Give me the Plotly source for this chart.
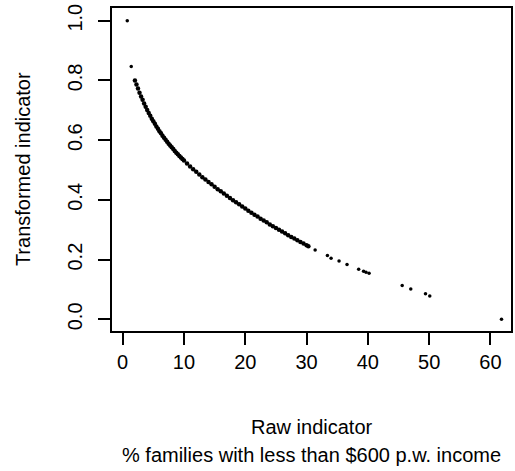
import plotly.graph_objects as go

# raw indicator (% families with < $600 p.w. income) vs transformed value
# the dense part of the cloud
curve_raw = [2.0, 2.25, 2.5, 2.75, 3.0, 3.25, 3.5, 3.75, 4.0, 4.25, 4.5, 4.75,
             5.0, 5.25, 5.5, 5.75, 6.0, 6.25, 6.5, 6.75, 7.0, 7.25, 7.5, 7.75,
             8.0, 8.25, 8.5, 8.75, 9.0, 9.25, 9.5, 9.75, 10.0,
             10.5, 11.0, 11.5, 12.0, 12.5, 13.0, 13.5, 14.0, 14.5, 15.0, 15.5,
             16.0, 16.5, 17.0, 17.5, 18.0, 18.5, 19.0, 19.5, 20.0, 20.5, 21.0,
             21.5, 22.0, 22.5, 23.0, 23.5, 24.0, 24.5, 25.0, 25.5, 26.0, 26.5,
             27.0, 27.5, 28.0, 28.5, 29.0, 29.5, 30.0, 30.3]
curve_transformed = [0.800, 0.786, 0.773, 0.759, 0.746, 0.735, 0.723, 0.712, 0.701, 0.691, 0.682, 0.672,
                     0.663, 0.655, 0.646, 0.638, 0.630, 0.623, 0.615, 0.608, 0.601, 0.595, 0.588, 0.582,
                     0.576, 0.570, 0.564, 0.558, 0.553, 0.547, 0.542, 0.537, 0.532,
                     0.522, 0.512, 0.503, 0.494, 0.485, 0.476, 0.468, 0.460, 0.452, 0.444, 0.436,
                     0.429, 0.421, 0.414, 0.406, 0.399, 0.392, 0.385, 0.378, 0.371, 0.364, 0.357,
                     0.350, 0.344, 0.337, 0.331, 0.325, 0.318, 0.312, 0.306, 0.300, 0.294, 0.288,
                     0.282, 0.276, 0.271, 0.265, 0.259, 0.254, 0.248, 0.245]
# the scattered points at both ends
sparse_raw = [0.75, 1.4, 31.4, 33.4, 34.0, 35.3, 36.6, 38.5, 39.3, 39.7, 40.2,
              45.6, 47.0, 49.4, 50.1, 61.8]
sparse_transformed = [1.0, 0.847, 0.232, 0.214, 0.205, 0.195, 0.184, 0.168, 0.161, 0.158, 0.154,
                      0.113, 0.102, 0.086, 0.078, 0.0]

x_ticks = [0, 10, 20, 30, 40, 50, 60]
y_ticks = [0.0, 0.2, 0.4, 0.6, 0.8, 1.0]
y_tick_text = ["0.0", "0.2", "0.4", "0.6", "0.8", "1.0"]

FONT = dict(family="Liberation Sans, Arial, sans-serif", size=20, color="black")

fig = go.Figure()
fig.add_trace(go.Scatter(x=curve_raw, y=curve_transformed, mode="markers",
                         marker=dict(color="black", size=4.5), hoverinfo="skip"))
fig.add_trace(go.Scatter(x=sparse_raw, y=sparse_transformed, mode="markers",
                         marker=dict(color="black", size=3.5), hoverinfo="skip"))

axis_common = dict(showline=True, linecolor="black", linewidth=2, mirror=True,
                   ticks="outside", ticklen=12, tickwidth=2, tickcolor="black",
                   showgrid=False, zeroline=False, tickfont=FONT)

fig.update_xaxes(range=[-1.74, 63.35], tickvals=x_ticks, **axis_common)
fig.update_yaxes(range=[-0.039, 1.0425], tickvals=y_ticks, ticktext=y_tick_text,
                 tickangle=-90, ticklabelstandoff=8, **axis_common)

# axis titles as annotations (R-style positions)
fig.add_annotation(text="Raw indicator", xref="paper", yref="paper",
                   x=0.5, y=-0.297, showarrow=False, font=FONT, yanchor="middle")
fig.add_annotation(text="% families with less than $600 p.w. income", xref="paper", yref="paper",
                   x=0.5, y=-0.384, showarrow=False, font=FONT, yanchor="middle")
fig.add_annotation(text="Transformed indicator", xref="paper", yref="paper",
                   x=-0.224, y=0.5, textangle=-90, showarrow=False, font=FONT,
                   xanchor="center", yanchor="middle")

fig.update_layout(width=515, height=471, plot_bgcolor="white", paper_bgcolor="white",
                  margin=dict(l=112, r=4, t=8, b=140, autoexpand=False), showlegend=False)

# drop the browser's default 8px body margin so the figure sits at the window's corner
fig.write_html("out.html", config={"displayModeBar": False},
               post_script="document.body.style.margin='0';")
